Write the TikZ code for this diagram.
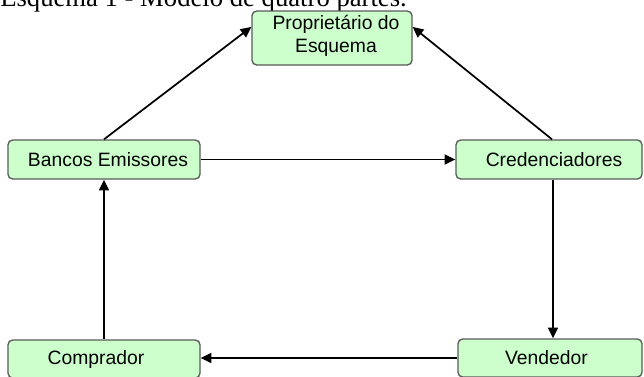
\documentclass[tikz,border=0pt]{standalone}
\usepackage{fontspec}
\setmainfont{Liberation Sans}
\newfontfamily\captionserif{Liberation Serif}
\usetikzlibrary{arrows.meta,calc}
\definecolor{boxfill}{RGB}{204,255,204}
\definecolor{boxline}{RGB}{90,90,90}
\begin{document}
\begin{tikzpicture}[x=0.75pt,y=-0.75pt,
  party/.style={draw=boxline, line width=1pt, fill=boxfill, rounded corners=3.5pt,
    inner sep=0pt},
  partytext/.style={inner sep=0pt, align=center, font=\fontsize{14.5}{17.25}\selectfont},
  link/.style={draw=black, line width=1.3pt, -{Triangle[length=8pt,width=7.5pt]}}
]
\useasboundingbox (0,0) rectangle (644,376);

% caption line above the figure
\node[anchor=base west, inner sep=0pt, font=\captionserif\fontsize{20}{24}\selectfont]
  (titulo) at (0,6) {Esquema 1 - Modelo de quatro partes.};

% the scheme owner and the four parties
\node[party, minimum width=120pt, minimum height=40.5pt] (prop) at (332,38) {};
\node[partytext] (proptext) at ($(prop.center)+(4,-2.5)$) {Propriet\'ario do\\Esquema};

\node[party, minimum width=144pt, minimum height=29.25pt] (bancos) at (104,159.5) {};
\node[partytext] (bancostext) at ($(bancos.center)+(4,0)$) {Bancos Emissores};

\node[party, minimum width=139.5pt, minimum height=29.25pt] (cred) at (549,159.5) {};
\node[partytext] (credtext) at ($(cred.center)+(5,0)$) {Credenciadores};

\node[party, minimum width=144pt, minimum height=28.5pt] (comp) at (104,359) {};
\node[partytext] (comptext) at ($(comp.center)+(-8,0)$) {Comprador};

\node[party, minimum width=138pt, minimum height=28.5pt] (vend) at (550,358) {};
\node[partytext] (vendtext) at ($(vend.center)+(-3.5,0)$) {Vendedor};

% flows between parties
\draw[link] (bancos.north) -- ($(prop.north west)!0.3!(prop.south west)$);
\draw[link] ($(cred.north)+(3,0)$) -- ($(prop.north east)!0.3!(prop.south east)$);
\draw[link] (bancos.east) -- (cred.west);
\coordinate (credout) at ($(cred.south)+(4,0)$);
\draw[link] (credout) -- (credout |- vend.north);
\draw[link] (vend.west) -- (vend.west -| comp.east);
\draw[link] (comp.north) -- (bancos.south);
\end{tikzpicture}
\end{document}
